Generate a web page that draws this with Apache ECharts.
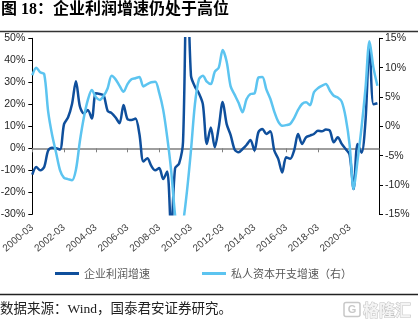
<!DOCTYPE html>
<html><head><meta charset="utf-8">
<script src="https://cdn.jsdelivr.net/npm/echarts@6/dist/echarts.min.js"></script>
<style>html,body{margin:0;padding:0;background:#fff}#c{width:418px;height:324px}</style>
</head><body><div id="c"></div>
<script>
const quarters = [
 '2000-03','2000-06','2000-09','2000-12','2001-03','2001-06','2001-09','2001-12',
 '2002-03','2002-06','2002-09','2002-12','2003-03','2003-06','2003-09','2003-12',
 '2004-03','2004-06','2004-09','2004-12','2005-03','2005-06','2005-09','2005-12',
 '2006-03','2006-06','2006-09','2006-12','2007-03','2007-06','2007-09','2007-12',
 '2008-03','2008-06','2008-09','2008-12','2009-03','2009-06','2009-09','2009-12',
 '2010-03','2010-06','2010-09','2010-12','2011-03','2011-06','2011-09','2011-12',
 '2012-03','2012-06','2012-09','2012-12','2013-03','2013-06','2013-09','2013-12',
 '2014-03','2014-06','2014-09','2014-12','2015-03','2015-06','2015-09','2015-12',
 '2016-03','2016-06','2016-09','2016-12','2017-03','2017-06','2017-09','2017-12',
 '2018-03','2018-06','2018-09','2018-12','2019-03','2019-06','2019-09','2019-12',
 '2020-03','2020-06','2020-09','2020-12','2021-03','2021-06','2021-09','2021-12'
];
const tickIndex = [0, 8, 16, 24, 32, 40, 48, 56, 64, 72, 80];
// 企业利润增速 (left axis, %)
const profitGrowth = [
 -12, -8.5, -10, -8.5, -1, 0.3, 0, -0.5,
 11, 14, 20, 30.5, 19, 15.8, 17.4, 13.5,
 25, 24.7, 24, 17, 16, 14, 11.4, 19.7,
 13.3, 12.9, 13.5, 6.5, -6, -4.5, -8, -10,
 -9, -14, -10.5, -38, -9, -7, 3, 85,
 33, 28, 25, 20, 2, 9.5, 0.5, 9.5,
 21, 11, 6, -0.5, -1.8, -0.3, 1.5, 3.8,
 -1, 7.3, 8.8, 6.5, 7.7, -1, -4.8, -11,
 -4.1, -4.8, -1, 6.5, 2, 5, 5.8, 6.5,
 8, 7.7, 8.5, 8, 2.7, 5, 2, -0.3,
 -3, -18.5, 2, -2, 12.6, 47.4, 20, 20.5
];
// 私人资本开支增速 (right axis, %)
const capexGrowth = [
 8.7, 10, 9.2, 8.9, 2.5, -1.5, -4.5, -7.5,
 -8.8, -9, -9.2, -7.4, -2.5, 1.5, 4.5, 6.2,
 5, 4.5, 5.2, 6.5, 8.6, 8, 6.9, 5.9,
 7.2, 8, 8.2, 8.4, 6.8, 7.2, 7.5, 7.6,
 5.7, 2.8, -1.8, -7.5, -15.2, -20, -16.5, -11,
 -4.1, 3.8, 8, 8.6, 7.6, 7.2, 9.3, 10,
 13, 11, 6.8, 5.4, 4, 2.4, 4.6, 5.5,
 5.6, 8.3, 8.4, 6.3, 4.7, 2.5, 0.8, 0.1,
 0.2, 0.4, 1.4, 2.8, 3.8, 4.1, 3.6, 5.8,
 6.5, 6.9, 7.2, 6.1, 5.2, 4.9, 4.2, 1.5,
 -3.2, -10.7, -5.8, -0.2, 6.5, 14.5, 10, 6.9
];
const seriesNames = ['企业利润增速', '私人资本开支增速（右）'];
const titleText = '图 18：企业利润增速仍处于高位';
const sourceText = '数据来源：Wind，国泰君安证券研究。';
const watermarkText = '格隆汇';

const serif = '"Liberation Serif","Noto Sans CJK SC",serif';
const sans = '"Liberation Sans",Arial,sans-serif';
const cjk = '"Noto Sans CJK SC",sans-serif';
const DARK = '#0f4f9c', LIGHT = '#5cc4f0';
const xMax = quarters.length - 1 + 0.4;
const labelFmt = v => (tickIndex.indexOf(v) >= 0) ? quarters[v] : '';
const toPairs = arr => arr.map((v, i) => [i, v]);

const chart = echarts.init(document.getElementById('c'));
chart.setOption({
  animation: false,
  title: {text: titleText, left: 1, top: 2, padding: 0,
    textStyle: {fontSize: 16, fontWeight: 'bold', fontFamily: serif, color: '#000'}},
  legend: {left: 55, top: 268, padding: 0, itemWidth: 24, itemHeight: 3, itemGap: 52, icon: 'rect',
    textStyle: {fontSize: 11, color: '#595959', fontFamily: cjk}, data: seriesNames},
  grid: {left: 32.3, right: 39, top: 38.3, bottom: 109.7, outerBoundsMode: 'none'},
  xAxis: [
    {type: 'value', min: 0, max: xMax, interval: 8, position: 'bottom',
      axisLine: {show: false, onZero: false}, axisTick: {show: false}, splitLine: {show: false},
      axisLabel: {customValues: tickIndex, formatter: labelFmt, rotate: 40, margin: 12,
        fontSize: 10, color: '#404040', fontFamily: sans, showMaxLabel: true, showMinLabel: true}},
    {type: 'value', min: 0, max: xMax, interval: 8, position: 'bottom',
      axisLine: {show: true, onZero: true, onZeroAxisIndex: 0, lineStyle: {color: '#7f7f7f', width: 1.5}},
      axisTick: {show: true, customValues: tickIndex, length: 4, lineStyle: {color: '#7f7f7f'}},
      axisLabel: {show: false}, splitLine: {show: false}}
  ],
  yAxis: [
    {type: 'value', min: -30, max: 50, interval: 10, position: 'left',
      axisLine: {show: true, onZero: false, lineStyle: {color: '#000', width: 1}},
      axisTick: {show: true, length: 4, lineStyle: {color: '#000'}}, splitLine: {show: false},
      axisLabel: {formatter: '{value}%', margin: 7, fontSize: 10.5, color: '#262626', fontFamily: sans}},
    {type: 'value', min: -15, max: 15, interval: 5, position: 'right',
      axisLine: {show: true, onZero: false, lineStyle: {color: '#000', width: 1}},
      axisTick: {show: true, length: 4, lineStyle: {color: '#000'}}, splitLine: {show: false},
      axisLabel: {formatter: '{value}%', margin: 6, fontSize: 10.5, color: '#262626', fontFamily: sans}}
  ],
  series: [
    {name: seriesNames[0], type: 'line', xAxisIndex: 0, yAxisIndex: 0, data: toPairs(profitGrowth),
      showSymbol: false, symbol: 'none', smooth: 0.3, clip: true,
      lineStyle: {color: DARK, width: 2.5}, itemStyle: {color: DARK}},
    {name: seriesNames[1], type: 'line', xAxisIndex: 0, yAxisIndex: 1, data: toPairs(capexGrowth),
      showSymbol: false, symbol: 'none', smooth: 0.3, clip: true,
      lineStyle: {color: LIGHT, width: 2.5}, itemStyle: {color: LIGHT}}
  ],
  graphic: [
    {type: 'line', shape: {x1: 0, y1: 31.5, x2: 418, y2: 31.5}, style: {stroke: '#333', lineWidth: 1.5}},
    {type: 'line', shape: {x1: 0, y1: 294.5, x2: 418, y2: 294.5}, style: {stroke: '#222', lineWidth: 1.5}},
    {type: 'text', x: 0, y: 309, style: {text: sourceText, fontSize: 13.5, fontFamily: serif,
      fill: '#222', textVerticalAlign: 'middle'}},
    {type: 'rect', shape: {x: 344, y: 302.5, width: 16, height: 14, r: 2},
      style: {fill: 'none', stroke: '#c8c8c8', lineWidth: 1.5}},
    {type: 'text', x: 352, y: 310, style: {text: 'G', fontSize: 11, fontWeight: 'bold', fontFamily: sans,
      fill: '#c8c8c8', textAlign: 'center', textVerticalAlign: 'middle'}},
    {type: 'text', x: 363, y: 310, style: {text: watermarkText, fontSize: 16, fontWeight: 'bold', fontFamily: cjk,
      fill: '#f4f4f4', stroke: '#c0c0c0', lineWidth: 1, textVerticalAlign: 'middle'}}
  ]
});
</script>
</body></html>
